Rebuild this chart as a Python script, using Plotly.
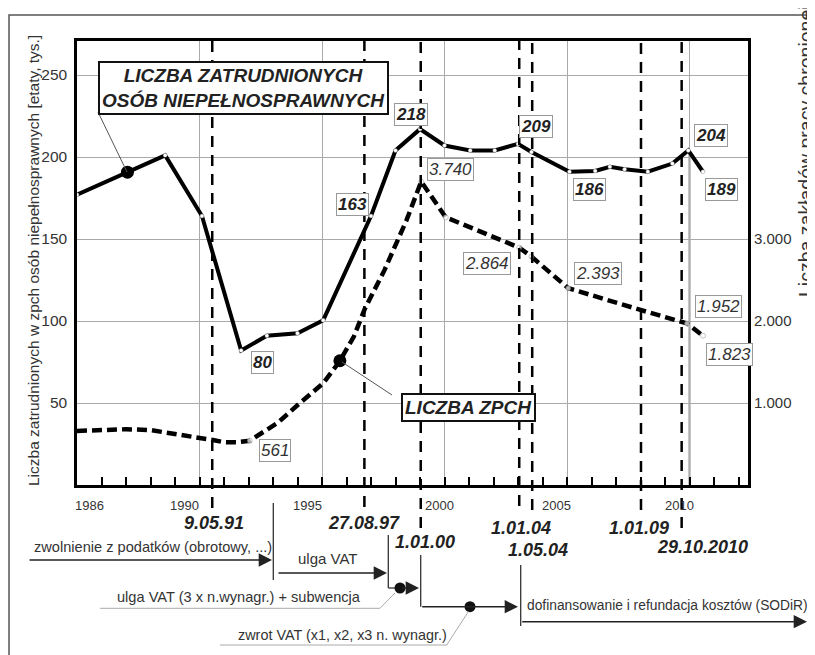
import numpy as np
import plotly.graph_objects as go

# ---------------- data ----------------
# employment of disabled persons in ZPCH [thousand FTE] (left axis, solid line)
emp_years = [1985.0, 1988.6, 1990.1, 1991.7, 1992.75, 1994.0, 1995.05, 1997.0, 1998.0,
             1999.0, 2000.0, 2001.05, 2002.05, 2003.0, 2003.55, 2005.1, 2006.15, 2006.75,
             2007.35, 2008.3, 2009.3, 2009.95, 2010.55]
emp_values = [177, 201, 164, 82, 91, 92.5, 100.5, 164, 204,
              217, 207, 204, 204, 208, 203, 191, 191.5, 194,
              192.5, 191, 196, 204, 191]
emp_label_idx = [3, 7, 9, 13, 15, 21, 22]
emp_label_txt = ["80", "163", "218", "209", "186", "204", "189"]

# number of sheltered workshops ZPCH (right axis, dashed line)
zpch_years = [1985.0, 1987.0, 1988.0, 1988.9, 1990.0, 1990.6, 1991.0, 1991.5, 1992.05,
              1993.2, 1994.1, 1995.05, 1995.7, 1996.3, 1996.75, 1997.55, 1998.45, 1999.05,
              2000.05, 2003.05, 2003.55, 2005.05, 2008.0, 2009.9, 2010.55]
zpch_values = [660, 680, 670, 630, 570, 545, 522, 520, 540,
               760, 1000, 1240, 1500, 1810, 2150, 2620, 3230, 3700,
               3265, 2895, 2785, 2400, 2135, 1970, 1820]
zpch_label_idx = [8, 17, 19, 21, 23, 24]
zpch_label_txt = ["561", "3.740", "2.864", "2.393", "1.952", "1.823"]

# legal milestones (vertical dashed lines)
event_x = [1990.52, 1996.73, 1999.03, 2003.05, 2003.58, 2008.02, 2009.68]
event_txt = ["9.05.91", "27.08.97", "1.01.00", "1.01.04", "1.05.04", "1.01.09", "29.10.2010"]

x_tick_vals = [1985, 1990, 1995, 2000, 2005, 2010]
x_tick_txt = ["1986", "1990", "1995", "2000", "2005", "2010"]
y_tick_vals = [50, 100, 150, 200, 250]
y2_tick_vals = [1000, 2000, 3000]
y2_tick_txt = ["1.000", "2.000", "3.000"]

# ---------------- layout helpers (page pixel coordinates) ----------------
OFF = 8                      # default page margin around the figure
L, T, R, B = 77, 41, 748, 485
W, H = R - L, B - T
X0, X1 = 1985.0, 1985.0 + W / 24.5
Y0, Y1 = 0, H / 82 * 50
Y2_1 = Y1 * 20


def px(x):
    return (x - L) / W


def py(y):
    return (B - y) / H


SANS = "Liberation Sans, Arial, sans-serif"
TXT = "#333"

fig = go.Figure()

fig.add_trace(go.Scatter(
    x=zpch_years, y=zpch_values, yaxis="y2", mode="lines+markers",
    line=dict(color="black", width=4.5, dash="10px,5px"),
    marker=dict(size=[5 if i in (8, 17, 18, 19, 20, 21, 23, 24) else 0 for i in range(len(zpch_years))],
                color="white", line=dict(color="#777", width=0.6)),
    hoverinfo="skip", showlegend=False))

fig.add_trace(go.Scatter(
    x=emp_years, y=emp_values, mode="lines+markers",
    line=dict(color="black", width=4),
    marker=dict(size=4, color="white", line=dict(color="#777", width=0.4)),
    hoverinfo="skip", showlegend=False))

# callout dots on the lines
dot1_x, dot2_x = 1987.06, 1995.73
fig.add_trace(go.Scatter(x=[dot1_x], y=[np.interp(dot1_x, emp_years, emp_values)], mode="markers",
                         marker=dict(size=13, color="black"), hoverinfo="skip", showlegend=False))
fig.add_trace(go.Scatter(x=[dot2_x], y=[np.interp(dot2_x, zpch_years, zpch_values)], yaxis="y2",
                         mode="markers", marker=dict(size=13, color="black"),
                         hoverinfo="skip", showlegend=False))

shapes = []
annotations = []


def ann(**kw):
    kw.setdefault("xanchor", "center")
    kw.setdefault("yanchor", "middle")
    kw.setdefault("showarrow", False)
    annotations.append(kw)


# darker 2010 line
shapes.append(dict(type="line", xref="x", yref="y", x0=2010, x1=2010, y0=0, y1=203,
                   line=dict(color="#222", width=1.5), layer="below"))

# event dashed lines
event_bottom = [508, 507, 528, 506, 510, 510, 528]
event_lab_dx = [2, 0, 4, 2, 6, -2, 21]
event_lab_y = [523, 523, 542, 528, 550, 528, 547]
for xv, yb, txt, dx, ly in zip(event_x, event_bottom, event_txt, event_lab_dx, event_lab_y):
    shapes.append(dict(type="line", xref="x", yref="paper", x0=xv, x1=xv, y0=py(yb), y1=1,
                       line=dict(color="black", width=2.5, dash="11px,8px")))
    ann(x=xv, y=py(ly), xref="x", yref="paper", text="<b><i>%s</i></b>" % txt,
        xshift=dx, font=dict(family=SANS, size=18, color="#222"))

# x tick labels
x_lab_shift = [12, -15, -15, -5, -11, -10]
for xv, txt, dx in zip(x_tick_vals, x_tick_txt, x_lab_shift):
    ann(x=xv, y=py(505), xref="x", yref="paper", text=txt, xshift=dx,
        font=dict(family=SANS, size=13, color=TXT))

# value labels
emp_off = [(21, -12), (-19, 12), (-9, 15), (18, 17), (20, -18), (23, 15), (19, -18)]
for i, txt, (dx, dy) in zip(emp_label_idx, emp_label_txt, emp_off):
    ann(x=emp_years[i], y=emp_values[i], xref="x", yref="y",
        text="<b><i>%s</i></b>" % txt, xshift=dx, yshift=dy,
        bgcolor="white", bordercolor="#999", borderwidth=1, borderpad=1,
        font=dict(family=SANS, size=17, color="#222"))
zpch_off = [(25, -10), (29, 12), (-32, -16), (30, 15), (31, 17), (27, -19)]
for i, txt, (dx, dy) in zip(zpch_label_idx, zpch_label_txt, zpch_off):
    ann(x=zpch_years[i], y=zpch_values[i], xref="x", yref="y2",
        text="<i>%s</i>" % txt, xshift=dx, yshift=dy,
        bgcolor="white", bordercolor="#999", borderwidth=1, borderpad=1,
        font=dict(family=SANS, size=17, color="#333"))

# big series labels with leader lines
shapes.append(dict(type="line", xref="paper", yref="paper", x0=px(98), y0=py(112),
                   x1=px(127), y1=py(172), line=dict(color="#555", width=1)))
shapes.append(dict(type="line", xref="paper", yref="paper", x0=px(342), y0=py(362),
                   x1=px(392), y1=py(395), line=dict(color="#555", width=1)))
ann(x=px(243.7), y=py(87.5), xref="paper", yref="paper",
    text="<b><i>LICZBA ZATRUDNIONYCH<br>OSÓB NIEPEŁNOSPRAWNYCH</i></b>",
    bgcolor="white", bordercolor="#111", borderwidth=2, borderpad=2,
    font=dict(family=SANS, size=19, color="#222"))
ann(x=px(468), y=py(407), xref="paper", yref="paper",
    text="<b><i>LICZBA ZPCH</i></b>", bgcolor="white",
    bordercolor="#111", borderwidth=2, borderpad=2,
    font=dict(family=SANS, size=19, color="#222"))

# axis titles
ann(x=px(33), y=py(261), xref="paper", yref="paper", textangle=-90,
    text="Liczba zatrudnionych w zpch osób niepełnosprawnych [etaty, tys.]",
    font=dict(family=SANS, size=15.5, color=TXT))
ann(x=px(806), y=py(151), xref="paper", yref="paper", textangle=-90,
    text="Liczba zakładów pracy chronionej",
    font=dict(family=SANS, size=19.5, color=TXT))


# ---------------- bottom time line ----------------
def seg(x0, y0, x1, y1, color="#333", width=1.3):
    shapes.append(dict(type="line", xref="paper", yref="paper", x0=px(x0), y0=py(y0),
                       x1=px(x1), y1=py(y1), line=dict(color=color, width=width)))


def arrow(x0, y0, x1, y1):
    annotations.append(dict(x=px(x1), y=py(y1), xref="paper", yref="paper", text="",
                            ax=x0 - x1, ay=y0 - y1, axref="pixel", ayref="pixel", showarrow=True,
                            arrowhead=2, arrowsize=1.9, arrowwidth=1.4, arrowcolor="#222",
                            standoff=0, startstandoff=0))


def dot(cx, cy, r=5.5):
    shapes.append(dict(type="circle", xref="paper", yref="paper", x0=px(cx - r), x1=px(cx + r),
                       y0=py(cy + r), y1=py(cy - r), fillcolor="#111", line=dict(width=0)))


def label(cx, cy, txt, size):
    ann(x=px(cx), y=py(cy), xref="paper", yref="paper", text=txt,
        font=dict(family=SANS, size=size, color=TXT))


arrow(28, 560, 272, 560)
seg(273.3, 503, 273.3, 580)
arrow(277, 573, 387, 573)
seg(388.3, 535, 388.3, 588)
seg(388.3, 588, 400, 588)
arrow(400, 588, 419, 588)
dot(400, 588)
seg(420.7, 555, 420.7, 606.7)
arrow(420.7, 606.7, 518, 606.7)
dot(470, 606.7)
seg(520.7, 565, 520.7, 626)
arrow(520.7, 621.7, 807, 621.7)
seg(100, 608.3, 380, 608.3, color="#aaa", width=1)
seg(380, 608.3, 395, 593, color="#aaa", width=1)
seg(220, 645, 446.7, 645, color="#aaa", width=1)
seg(446.7, 645, 468.3, 611.7, color="#aaa", width=1)

label(152.5, 546.7, "zwolnienie z podatków (obrotowy, ...)", 14.6)
label(327, 558, "ulga VAT", 15)
label(239, 596.7, "ulga VAT (3 x n.wynagr.) + subwencja", 14.6)
label(342.5, 635, "zwrot VAT (x1, x2, x3 n. wynagr.)", 14.4)
label(667.7, 605, "dofinansowanie i refundacja kosztów (SODiR)", 13.8)

# outer frame
shapes.append(dict(type="rect", xref="paper", yref="paper", x0=px(9), x1=1.3, y0=-0.6, y1=py(15),
                   line=dict(color="#555", width=1.5), layer="below"))

fig.update_layout(
    width=815 - OFF, height=655 - OFF, autosize=False,
    margin=dict(l=L - OFF, r=815 - R, t=T - OFF, b=655 - B, pad=0),
    paper_bgcolor="white", plot_bgcolor="white",
    shapes=shapes, annotations=annotations,
    xaxis=dict(range=[X0, X1], tickmode="array", tickvals=x_tick_vals, showticklabels=False,
               showgrid=True, gridcolor="#aaa", gridwidth=1, ticks="inside", ticklen=8,
               tickcolor="black", tickwidth=1.5,
               minor=dict(tickmode="linear", tick0=1985, dtick=1, ticks="inside", ticklen=8,
                          tickcolor="black", tickwidth=1.5, showgrid=False),
               showline=True, linecolor="black", linewidth=2.5, mirror=True, zeroline=False,
               fixedrange=True),
    yaxis=dict(range=[Y0, Y1], tickmode="array", tickvals=y_tick_vals, showgrid=True,
               gridcolor="#aaa", gridwidth=1, showline=True, linecolor="black", linewidth=2.5,
               mirror=True, zeroline=False, ticks="", ticklabelstandoff=4,
               tickfont=dict(family=SANS, size=15.5, color=TXT)),
    yaxis2=dict(range=[0, Y2_1], overlaying="y", side="right", tickmode="array",
                tickvals=y2_tick_vals, ticktext=y2_tick_txt, showgrid=False, zeroline=False,
                showline=False, ticks="", ticklabelstandoff=5,
                tickfont=dict(family=SANS, size=15, color=TXT)),
)

fig.write_html("out.html")
